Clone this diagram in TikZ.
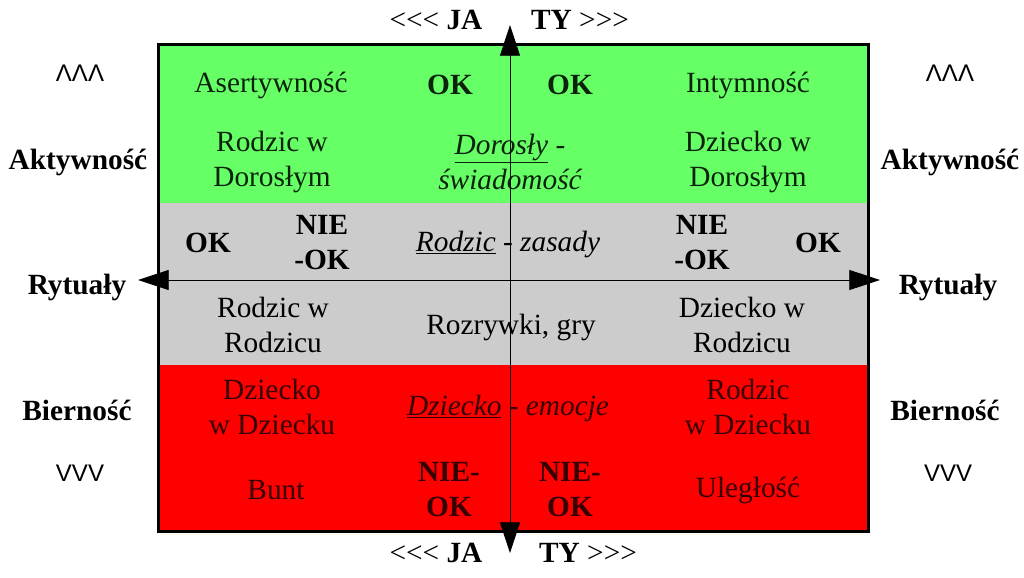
\documentclass[tikz,border=0pt]{standalone}
\usepackage{fontspec}
\setmainfont{LiberationSerif}[Extension=.ttf, UprightFont=*-Regular, BoldFont=*-Bold, ItalicFont=*-Italic, BoldItalicFont=*-BoldItalic]
\newfontfamily\arialfont{Liberation Sans}
\usetikzlibrary{arrows.meta,positioning}
\definecolor{bandgreen}{RGB}{102,255,102}
\definecolor{bandgray}{RGB}{204,204,204}
\definecolor{bandred}{RGB}{255,0,0}
\definecolor{greentext}{RGB}{10,35,10}
\definecolor{redtext}{RGB}{55,0,0}

\tikzset{
	cell/.style={align=center, inner sep=0pt, font=\fontsize{22}{26.25}\selectfont},
	bcell/.style={cell, font=\fontsize{22}{26.25}\selectfont\bfseries},
	icell/.style={cell, font=\fontsize{22}{26.25}\selectfont\itshape},
	tick/.style={inner sep=0pt, font=\arialfont\fontsize{18}{20}\selectfont},
	axis/.style={{Triangle[length=23pt,width=15pt]}-{Triangle[length=23pt,width=15pt]}, line width=0.6pt}
}
\newcommand{\lll}{<\kern0pt<\kern0pt<}
\newcommand{\ggg}{>\kern0pt>\kern0pt>}

\begin{document}
\begin{tikzpicture}[x=0.75pt,y=-0.75pt]
	\useasboundingbox (0,0) rectangle (1024,578);

	% bands
	\fill[bandgreen] (158,44) rectangle (868,203);
	\fill[bandgray] (158,203) rectangle (868,365);
	\fill[bandred] (158,365) rectangle (868,531);
	\draw[line width=2.25pt] (158,44) rectangle (868,531);

	% green band
	\node[cell, text=greentext] (asert) at (271,85) {Asertywność};
	\node[bcell, text=greentext] (okJaTop) at (450,85) {OK};
	\node[bcell, text=greentext] (okTyTop) at (570,85) {OK};
	\node[cell, text=greentext] (intym) at (748,85) {Intymność};
	\node[cell, text=greentext] (rwd) at (272,162) {Rodzic w\\Dorosłym};
	\node[icell, text=greentext] (dorosly) at (510,162) {\underline{Dorosły} -\\świadomość};
	\node[cell, text=greentext] (dwd) at (748,162) {Dziecko w\\Dorosłym};

	% gray band
	\node[bcell] (okJaMid) at (208,243) {OK};
	\node[bcell] (nieJaMid) at (322,243) {NIE\\-OK};
	\node[icell] (rodzic) at (508,244) {\underline{Rodzic} - zasady};
	\node[bcell] (nieTyMid) at (702,243) {NIE\\-OK};
	\node[bcell] (okTyMid) at (818,243) {OK};
	\node[cell] (rwr) at (273,325) {Rodzic w\\Rodzicu};
	\node[cell] (rozrywki) at (511,327) {Rozrywki, gry};
	\node[cell] (dwr) at (742,325) {Dziecko w\\Rodzicu};

	% red band
	\node[cell, text=redtext] (dwdz) at (272,407) {Dziecko\\w Dziecku};
	\node[icell, text=redtext] (dziecko) at (508,408) {\underline{Dziecko} - emocje};
	\node[cell, text=redtext] (rwdz) at (748,407) {Rodzic\\w Dziecku};
	\node[cell, text=redtext] (bunt) at (276,490) {Bunt};
	\node[bcell, text=redtext] (nieJaBot) at (449,490) {NIE-\\OK};
	\node[bcell, text=redtext] (nieTyBot) at (570,490) {NIE-\\OK};
	\node[cell, text=redtext] (uleg) at (748,490) {Uległość};

	% axes
	\coordinate (up) at (510,25);
	\coordinate (down) at (510,553);
	\coordinate (left) at (138,280);
	\coordinate (right) at (880,280);
	\path [axis]
	(up) edge (down)
	(left) edge (right);

	% outside labels
	\node[cell] (jaTop) at (436,20) {\lll{} \textbf{JA}};
	\node[cell] (tyTop) at (580,20) {\textbf{TY} \ggg};
	\node[cell] (jaBot) at (436,553) {\lll{} \textbf{JA}};
	\node[cell] (tyBot) at (588,553) {\textbf{TY} \ggg};

	\node[tick] (upL) at (80,73) {ΛΛΛ};
	\node[bcell] (aktL) at (78,162) {Aktywność};
	\node[bcell] (rytL) at (77,287) {Rytuały};
	\node[bcell] (bierL) at (77,410) {Bierność};
	\node[tick] (downL) at (80,473) {VVV};

	\node[tick] (upR) at (950,73) {ΛΛΛ};
	\node[bcell] (aktR) at (950,162) {Aktywność};
	\node[bcell] (rytR) at (948,287) {Rytuały};
	\node[bcell] (bierR) at (945,410) {Bierność};
	\node[tick] (downR) at (948,473) {VVV};
\end{tikzpicture}
\end{document}
